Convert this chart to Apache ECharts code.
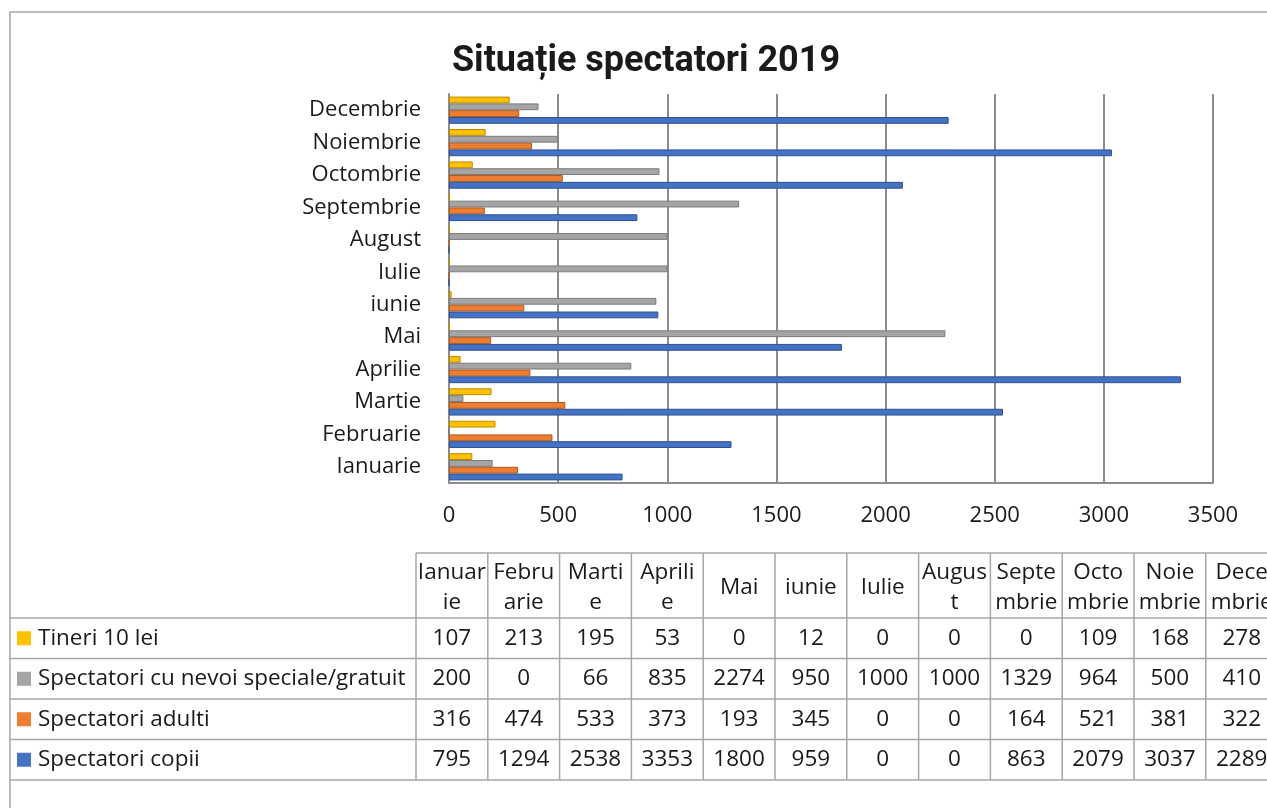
<!DOCTYPE html>
<html>
<head>
<meta charset="utf-8">
<script src="https://cdn.jsdelivr.net/npm/echarts@6/dist/echarts.min.js"></script>
<style>
  html, body { margin: 0; padding: 0; background: #fff; }
  #chart { width: 1267px; height: 808px; }
</style>
</head>
<body>
<div id="chart"></div>
<script>
const months = ['Ianuarie', 'Februarie', 'Martie', 'Aprilie', 'Mai', 'iunie', 'Iulie', 'August', 'Septembrie', 'Octombrie', 'Noiembrie', 'Decembrie'];
// how the month names wrap in the data table header
const tableHeads = ['Ianuar\nie', 'Febru\narie', 'Marti\ne', 'Aprili\ne', 'Mai', 'iunie', 'Iulie', 'Augus\nt', 'Septe\nmbrie', 'Octo\nmbrie', 'Noie\nmbrie', 'Dece\nmbrie'];

const tineri = [107, 213, 195, 53, 0, 12, 0, 0, 0, 109, 168, 278];
const nevoiSpeciale = [200, 0, 66, 835, 2274, 950, 1000, 1000, 1329, 964, 500, 410];
const adulti = [316, 474, 533, 373, 193, 345, 0, 0, 164, 521, 381, 322];
const copii = [795, 1294, 2538, 3353, 1800, 959, 0, 0, 863, 2079, 3037, 2289];

const xTicks = { min: 0, max: 3500, interval: 500 };

// first series sits on top of each group, same order as the table rows
const seriesDefs = [
  { name: 'Tineri 10 lei', data: tineri, color: '#FFC000', border: '#BC8C00' },
  { name: 'Spectatori cu nevoi speciale/gratuit', data: nevoiSpeciale, color: '#A5A5A5', border: '#7B7B7B' },
  { name: 'Spectatori adulti', data: adulti, color: '#ED7D31', border: '#AE5A21' },
  { name: 'Spectatori copii', data: copii, color: '#4472C4', border: '#2F528F' }
];

const font = '"Open Sans", "Noto Sans", sans-serif';
const tableFont = '22.5px ' + font;

// ---- data table drawn with graphic elements ----
const tbl = { left: 10, colX: 416, colW: 71.8, headTop: 553, headBottom: 618, rowH: 40.5, right: 1300 };
const graphics = [];
const lineStyle = { stroke: '#A6A6A6', lineWidth: 1.5 };
const tableBottom = tbl.headBottom + seriesDefs.length * tbl.rowH;

// outer chart border
graphics.push({ type: 'rect', shape: { x: 10, y: 12, width: 1400, height: 900 }, style: { fill: null, stroke: '#A6A6A6', lineWidth: 1.5 }, silent: true });

// header top line, verticals, row lines
graphics.push({ type: 'line', shape: { x1: tbl.colX, y1: tbl.headTop, x2: tbl.right, y2: tbl.headTop }, style: lineStyle });
for (let i = 0; i <= months.length; i++) {
  const x = tbl.colX + i * tbl.colW;
  graphics.push({ type: 'line', shape: { x1: x, y1: tbl.headTop, x2: x, y2: tableBottom }, style: lineStyle });
}
for (let r = 0; r <= seriesDefs.length; r++) {
  const y = tbl.headBottom + r * tbl.rowH;
  graphics.push({ type: 'line', shape: { x1: tbl.left, y1: y, x2: tbl.right, y2: y }, style: lineStyle });
}
// header text
tableHeads.forEach((h, i) => {
  graphics.push({
    type: 'text',
    x: tbl.colX + (i + 0.5) * tbl.colW, y: (tbl.headTop + tbl.headBottom) / 2 + 2,
    style: { text: h, font: tableFont, fill: '#1a1a1a', align: 'center', verticalAlign: 'middle', lineHeight: 30 }
  });
});
// rows
seriesDefs.forEach((s, r) => {
  const cy = tbl.headBottom + (r + 0.5) * tbl.rowH;
  graphics.push({ type: 'rect', shape: { x: 17, y: cy - 7, width: 14, height: 14 }, style: { fill: s.color } });
  graphics.push({
    type: 'text', x: 38, y: cy,
    style: { text: s.name, font: tableFont, fill: '#1a1a1a', align: 'left', verticalAlign: 'middle' }
  });
  s.data.forEach((v, i) => {
    graphics.push({
      type: 'text', x: tbl.colX + (i + 0.5) * tbl.colW, y: cy,
      style: { text: String(v), font: tableFont, fill: '#1a1a1a', align: 'center', verticalAlign: 'middle' }
    });
  });
});

const chart = echarts.init(document.getElementById('chart'));
chart.setOption({
  animation: false,
  title: {
    text: 'Situație spectatori 2019',
    left: 641, top: 39, textAlign: 'center',
    textStyle: { fontFamily: 'Roboto, sans-serif', fontWeight: 'bold', fontSize: 36, color: '#1a1a1a' }
  },
  grid: { left: 449, right: 54, top: 94, height: 389 },
  xAxis: {
    type: 'value',
    min: xTicks.min, max: xTicks.max, interval: xTicks.interval,
    axisLine: { show: true, lineStyle: { color: '#8C8C8C', width: 2 } },
    axisTick: { show: false },
    splitLine: { show: true, lineStyle: { color: '#8C8C8C', width: 2 } },
    axisLabel: { fontFamily: font, fontSize: 22, color: '#1a1a1a', margin: 22, formatter: v => String(v) }
  },
  yAxis: {
    type: 'category',
    data: months,
    axisLine: { show: true, lineStyle: { color: '#8C8C8C', width: 2 } },
    axisTick: { show: false },
    axisLabel: { fontFamily: font, fontSize: 22, color: '#1a1a1a', margin: 28 }
  },
  series: seriesDefs.map(s => ({
    name: s.name,
    type: 'bar',
    data: s.data,
    barGap: '0%',
    barCategoryGap: '16%',
    itemStyle: { color: s.color, borderColor: s.border, borderWidth: 1 }
  })),
  graphic: graphics
});
</script>
</body>
</html>
